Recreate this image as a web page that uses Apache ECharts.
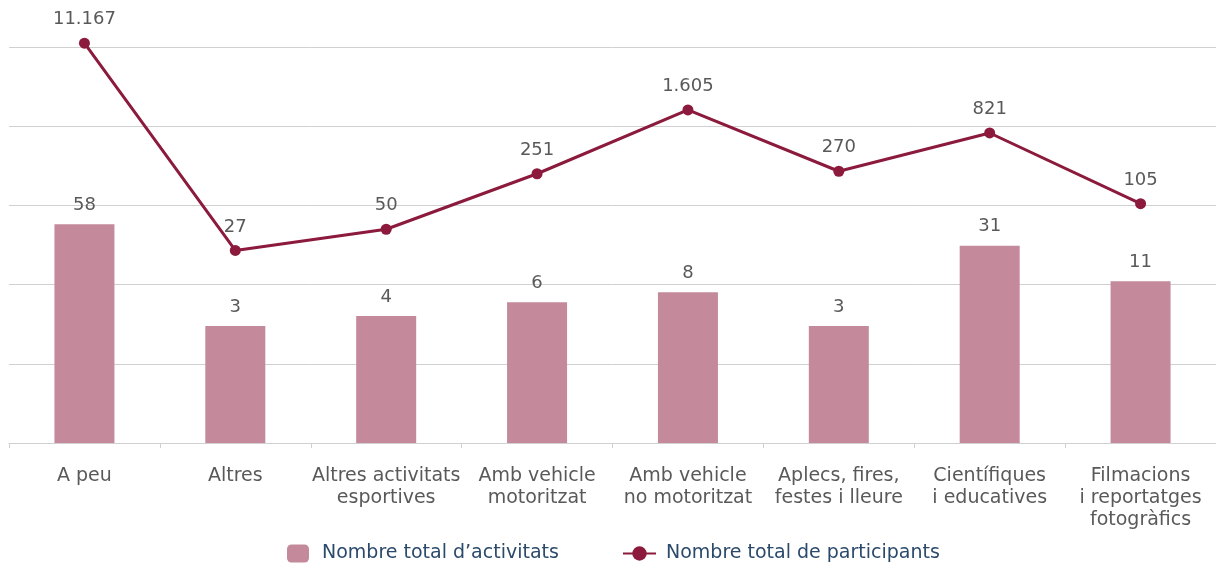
<!DOCTYPE html>
<html>
<head>
<meta charset="utf-8">
<script src="https://cdn.jsdelivr.net/npm/echarts@6/dist/echarts.min.js"></script>
<style>
  html, body { margin: 0; padding: 0; background: #fff; }
  #chart { width: 1216px; height: 564px; }
</style>
</head>
<body>
<div id="chart"></div>
<script>
// categories and values
const categories = [
  'A peu',
  'Altres',
  'Altres activitats\nesportives',
  'Amb vehicle\nmotoritzat',
  'Amb vehicle\nno motoritzat',
  'Aplecs, fires,\nfestes i lleure',
  'Científiques\ni educatives',
  'Filmacions\ni reportatges\nfotogràfics'
];
const activitats = [58, 3, 4, 6, 8, 3, 31, 11];
const participants = [11167, 27, 50, 251, 1605, 270, 821, 105];

const yMin = 0.1;
const yMax = 10000;

// 11167 -> 11.167
function fmt(v) {
  return String(v).replace(/\B(?=(\d{3})+(?!\d))/g, '.');
}

const chart = echarts.init(document.getElementById('chart'));
const font = "'DejaVu Sans', Verdana, sans-serif";
const barColor = '#c4899a';
const lineColor = '#8b1a3c';
const labelColor = '#595959';
const legendColor = '#2b4a6b';

// bars on a log axis start at 1 by default, so draw them from the axis min
function renderBar(params, api) {
  const top = api.coord([api.value(0), api.value(1)]);
  const bottom = api.coord([api.value(0), yMin]);
  const w = 60;
  return {
    type: 'group',
    children: [
      {
        type: 'rect',
        shape: { x: top[0] - w / 2, y: top[1], width: w, height: bottom[1] - top[1] },
        style: { fill: barColor }
      },
      {
        type: 'text',
        style: {
          text: fmt(api.value(1)),
          x: top[0],
          y: top[1] - 10,
          align: 'center',
          verticalAlign: 'bottom',
          fill: labelColor,
          font: '18px ' + font
        }
      }
    ]
  };
}

chart.setOption({
  animation: false,
  textStyle: { fontFamily: font },
  grid: { left: 9, right: -6, top: 47, bottom: 121, containLabel: false },
  legend: [
    {
      left: 282,
      top: 539,
      itemWidth: 22,
      itemHeight: 18,
      textStyle: { color: legendColor, fontSize: 19, fontFamily: font, padding: [0, 0, 0, 8] },
      data: [{ name: 'Nombre total d’activitats', icon: 'roundRect' }]
    },
    {
      left: 617,
      top: 539,
      itemWidth: 33,
      itemHeight: 18,
      textStyle: { color: legendColor, fontSize: 19, fontFamily: font, padding: [0, 0, 0, 5] },
      data: [{ name: 'Nombre total de participants' }]
    }
  ],
  xAxis: {
    type: 'category',
    data: categories,
    axisLine: { lineStyle: { color: '#d0d0d0', width: 1 } },
    axisTick: { show: true, length: 5, lineStyle: { color: '#d0d0d0' } },
    axisLabel: { color: labelColor, fontSize: 19, lineHeight: 22, margin: 22, interval: 0, fontFamily: font }
  },
  yAxis: {
    type: 'log',
    logBase: 10,
    min: yMin,
    max: yMax,
    axisLine: { show: false },
    axisTick: { show: false },
    axisLabel: { show: false },
    splitLine: { lineStyle: { color: '#d0d0d0', width: 1 } }
  },
  series: [
    {
      name: 'Nombre total d’activitats',
      type: 'custom',
      renderItem: renderBar,
      data: activitats.map((v, i) => [i, v]),
      encode: { x: 0, y: 1 },
      itemStyle: { color: barColor }
    },
    {
      name: 'Nombre total de participants',
      type: 'line',
      data: participants,
      clip: false,
      symbol: 'circle',
      symbolSize: 11,
      lineStyle: { color: lineColor, width: 3 },
      itemStyle: { color: lineColor },
      label: {
        show: true,
        position: 'top',
        distance: 9,
        color: labelColor,
        fontSize: 18,
        fontFamily: font,
        formatter: p => fmt(p.value)
      }
    }
  ]
});

window.addEventListener('resize', () => chart.resize());
</script>
</body>
</html>
